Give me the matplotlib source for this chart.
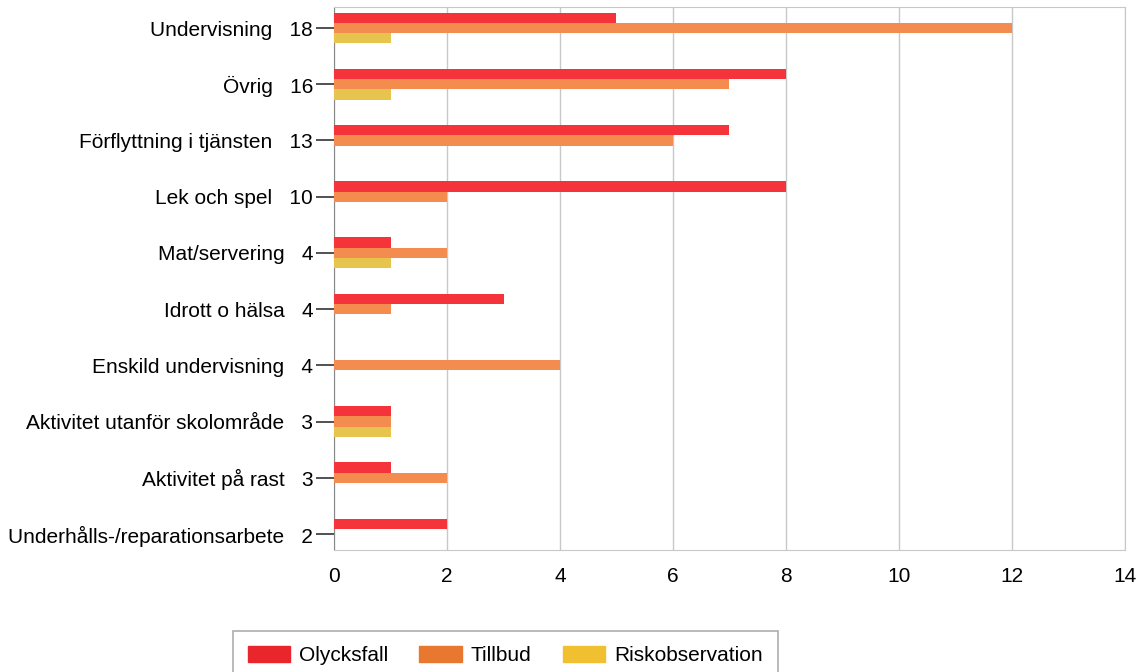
import matplotlib.pyplot as plt
import numpy as np

plt.rcParams['font.family'] = ['Liberation Sans', 'DejaVu Sans']

# Incidents per activity, one group of bars per category
categories = ['Undervisning', 'Övrig', 'Förflyttning i tjänsten', 'Lek och spel',
              'Mat/servering', 'Idrott o hälsa', 'Enskild undervisning',
              'Aktivitet utanför skolområde', 'Aktivitet på rast',
              'Underhålls-/reparationsarbete']
totals = [18, 16, 13, 10, 4, 4, 4, 3, 3, 2]
olycksfall = [5, 8, 7, 8, 1, 3, 0, 1, 1, 2]
tillbud = [12, 7, 6, 2, 2, 1, 4, 1, 2, 0]
riskobservation = [1, 1, 0, 0, 1, 0, 0, 1, 0, 0]

series = [('Olycksfall', olycksfall, '#f5333a'),
          ('Tillbud', tillbud, '#f58c4f'),
          ('Riskobservation', riskobservation, '#e6c44d')]
legend_colors = ['#e8262c', '#e87830', '#f0c030']

fs = 15
fig = plt.figure(figsize=(11.47, 6.72), dpi=100)
ax = fig.add_axes([0.2912, 0.1815, 0.6896, 0.8081])

y = np.arange(len(categories))
h = 0.183
for i, (name, vals, col) in enumerate(series):
    ax.barh(y + (i - 1) * h, vals, height=h, color=col, zorder=3)

ax.set_xlim(0, 14)
ax.set_ylim(len(categories) - 1 + 0.285, -0.374)
ax.set_xticks(range(0, 15, 2))
ax.set_yticks(y)
# name and total share one label
ax.set_yticklabels([f'{n}   {t}' for n, t in zip(categories, totals)])
ax.tick_params(axis='y', length=13, width=1.2, pad=2, labelsize=fs, color='#333333')
ax.tick_params(axis='x', length=0, pad=12, labelsize=fs)
ax.grid(axis='x', color='#c8c8c8', linewidth=1, zorder=0)

for s in ['top', 'right', 'bottom']:
    ax.spines[s].set_color('#c8c8c8')
ax.spines['left'].set_color('#888888')

handles = [plt.Rectangle((0, 0), 1, 1, color=c) for c in legend_colors]
leg = fig.legend(handles, [s[0] for s in series], loc='upper left',
                 bbox_to_anchor=(0.2031, 0.061), borderaxespad=0, ncol=3, fontsize=fs,
                 frameon=True, fancybox=False, edgecolor='#999999',
                 handlelength=2.02, handleheight=0.87, handletextpad=0.45,
                 columnspacing=1.5, borderpad=0.7)
leg.get_frame().set_linewidth(1.2)

fig.savefig('out.png', dpi=100)
